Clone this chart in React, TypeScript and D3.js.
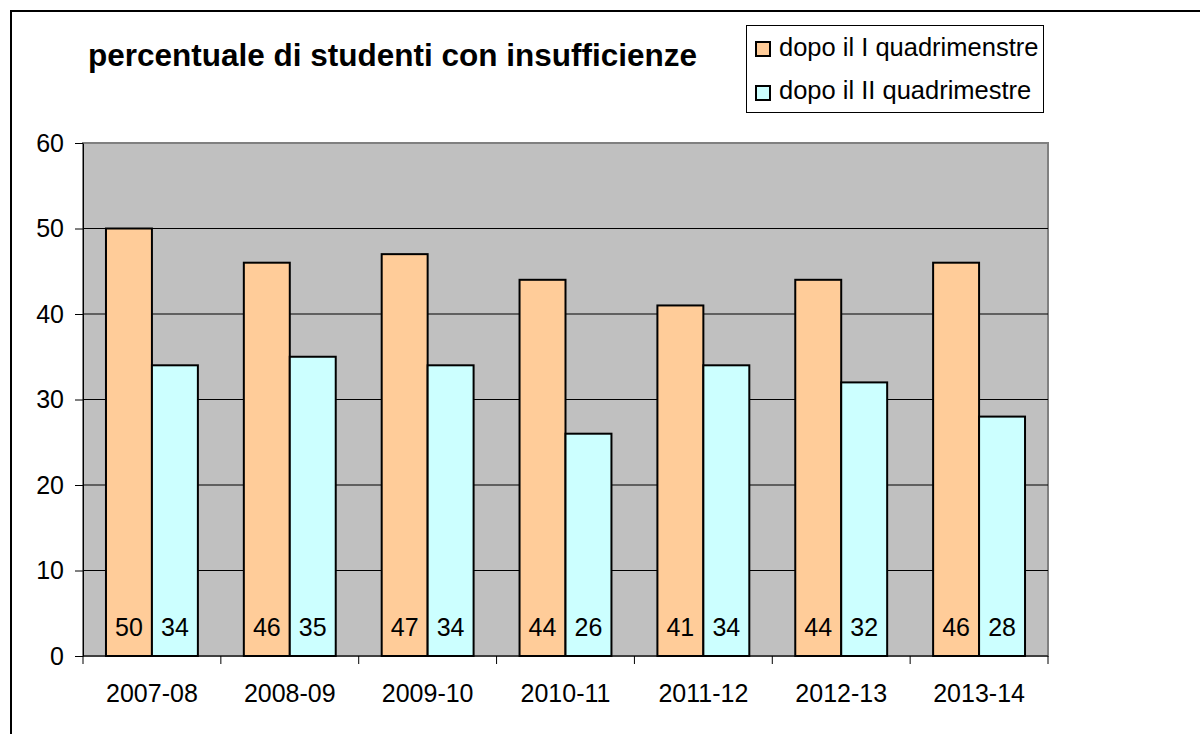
import React, { useEffect, useRef } from 'react';
import * as d3 from 'd3';

const years = ['2007-08', '2008-09', '2009-10', '2010-11', '2011-12', '2012-13', '2013-14'];
const firstTerm = [50, 46, 47, 44, 41, 44, 46];
const secondTerm = [34, 35, 34, 26, 34, 32, 28];
const seriesNames = ['dopo il I quadrimenstre', 'dopo il II quadrimestre'];
const seriesColors = ['#FFCC99', '#CCFFFF'];
const yTicks = [0, 10, 20, 30, 40, 50, 60];

const App: React.FC = () => {
  const ref = useRef<SVGSVGElement>(null);

  useEffect(() => {
    if (!ref.current) return;
    const svg = d3.select(ref.current);
    svg.selectAll('*').remove();

    const font = 'Liberation Sans, Arial, sans-serif';
    const plot = { left: 83, top: 143, right: 1048, bottom: 656 };

    // outer chart border (runs off the picture on the right and bottom)
    svg.append('rect')
      .attr('x', 11).attr('y', 11)
      .attr('width', 1200).attr('height', 740)
      .attr('fill', '#fff').attr('stroke', '#000').attr('stroke-width', 2);

    const x = d3.scaleBand().domain(years).range([plot.left, plot.right]).paddingInner(0).paddingOuter(0);
    const y = d3.scaleLinear().domain([0, 60]).range([plot.bottom, plot.top]);
    const barW = x.bandwidth() / 3;
    const off = (x.bandwidth() - 2 * barW) / 2;

    // plot area
    svg.append('rect')
      .attr('x', plot.left).attr('y', plot.top)
      .attr('width', plot.right - plot.left).attr('height', plot.bottom - plot.top)
      .attr('fill', '#C0C0C0').attr('stroke', '#808080').attr('stroke-width', 2);

    // gridlines
    svg.append('g').selectAll('line')
      .data(yTicks.filter(t => t > 0 && t < 60))
      .enter().append('line')
      .attr('x1', plot.left).attr('x2', plot.right)
      .attr('y1', d => y(d)).attr('y2', d => y(d))
      .attr('stroke', '#000').attr('stroke-width', 1);

    // y axis
    const yAxis = svg.append('g')
      .attr('transform', `translate(${plot.left},0)`)
      .call(d3.axisLeft(y).tickValues(yTicks).tickSize(8).tickPadding(11).tickSizeOuter(0));
    yAxis.select('.domain').attr('stroke', '#000');
    yAxis.selectAll('line').attr('stroke', '#000');
    yAxis.selectAll('text').attr('font-family', font).attr('font-size', 25).attr('fill', '#000');

    // x axis: ticks at category boundaries
    const xAxis = svg.append('g').attr('transform', `translate(0,${plot.bottom})`);
    xAxis.append('line')
      .attr('x1', plot.left).attr('x2', plot.right)
      .attr('y1', 0).attr('y2', 0).attr('stroke', '#000');
    const bounds = years.map(d => x(d) as number).concat([plot.right]);
    xAxis.selectAll('.tk').data(bounds).enter().append('line')
      .attr('x1', d => d).attr('x2', d => d)
      .attr('y1', 0).attr('y2', 8).attr('stroke', '#000');
    xAxis.selectAll('.lbl').data(years).enter().append('text')
      .attr('x', d => (x(d) as number) + x.bandwidth() / 2)
      .attr('y', 46)
      .attr('text-anchor', 'middle')
      .attr('font-family', font).attr('font-size', 25)
      .text(d => d);

    // bars
    const series = [firstTerm, secondTerm];
    series.forEach((vals, si) => {
      const g = svg.append('g');
      g.selectAll('rect').data(vals).enter().append('rect')
        .attr('x', (d, i) => (x(years[i]) as number) + off + si * barW)
        .attr('y', d => y(d))
        .attr('width', barW)
        .attr('height', d => plot.bottom - y(d))
        .attr('fill', seriesColors[si])
        .attr('stroke', '#000').attr('stroke-width', 2);
      g.selectAll('text').data(vals).enter().append('text')
        .attr('x', (d, i) => (x(years[i]) as number) + off + si * barW + barW / 2)
        .attr('y', plot.bottom - 20)
        .attr('text-anchor', 'middle')
        .attr('font-family', font).attr('font-size', 25)
        .text(d => d);
    });

    // title
    svg.append('text')
      .attr('x', 88).attr('y', 66)
      .attr('font-family', font).attr('font-size', 31.5).attr('font-weight', 'bold')
      .text('percentuale di studenti con insufficienze');

    // legend
    const legend = svg.append('g');
    legend.append('rect')
      .attr('x', 746.5).attr('y', 25.5).attr('width', 297).attr('height', 87)
      .attr('fill', '#fff').attr('stroke', '#000').attr('stroke-width', 1);
    seriesNames.forEach((name, i) => {
      legend.append('rect')
        .attr('x', 756).attr('y', 42 + i * 44).attr('width', 14).attr('height', 14)
        .attr('fill', seriesColors[i]).attr('stroke', '#000').attr('stroke-width', 2);
      legend.append('text')
        .attr('x', 779).attr('y', 56 + i * 43)
        .attr('font-family', font).attr('font-size', 25.5)
        .text(name);
    });
  }, []);

  return (
    <svg ref={ref} width={1200} height={734} style={{ position: 'absolute', left: 0, top: 0 }} />
  );
};

export default App;
